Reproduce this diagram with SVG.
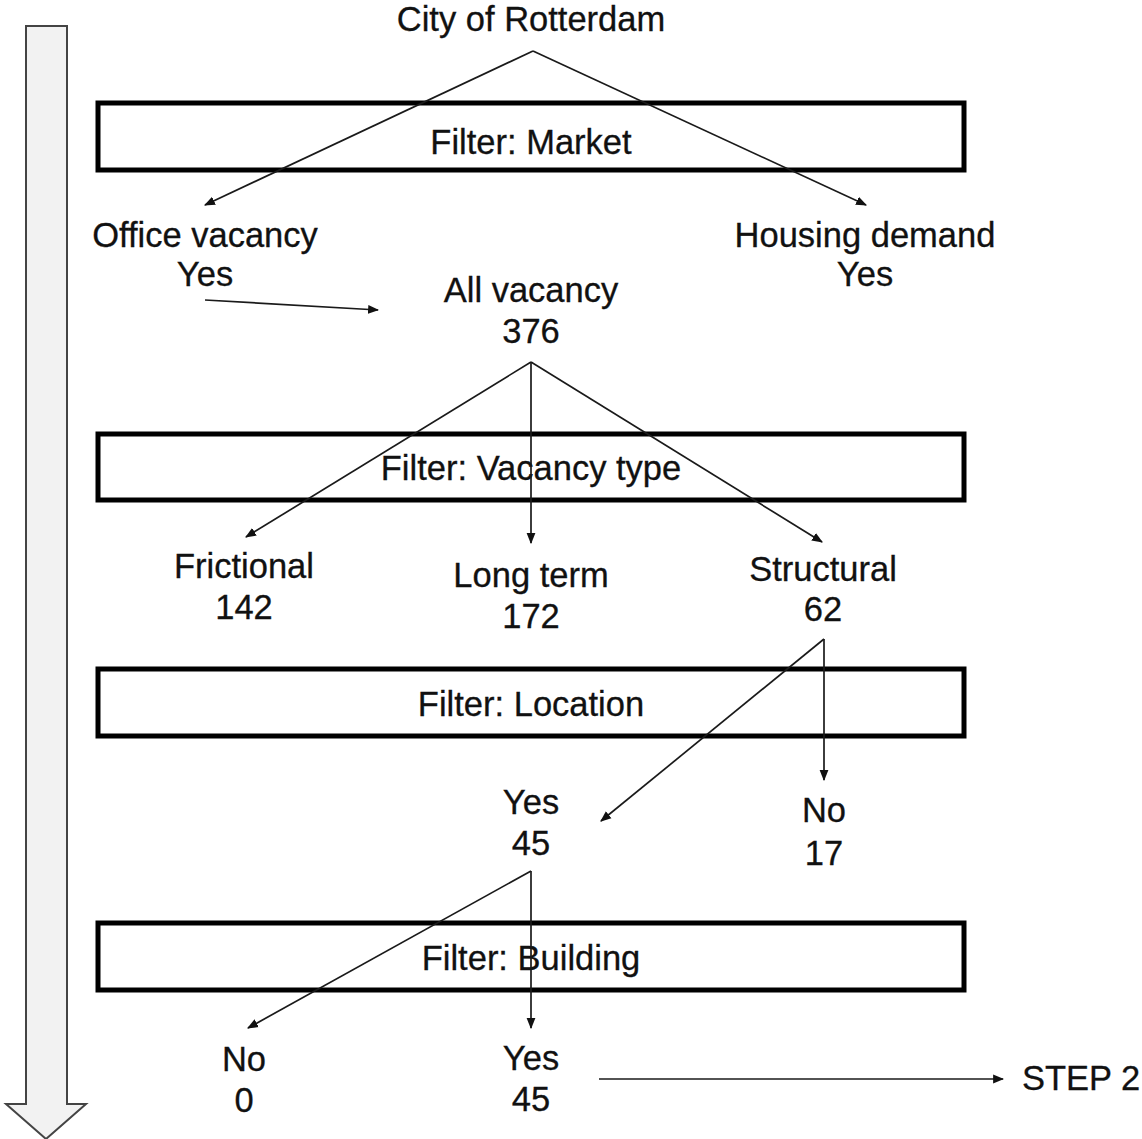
<svg xmlns="http://www.w3.org/2000/svg" width="1142" height="1139" viewBox="0 0 1142 1139">
  <style>
    text { font-family: "Liberation Sans", Arial, sans-serif; font-size: 34.5px; fill: #111; stroke: #111; stroke-width: 0.3; text-anchor: middle; }
    .filter rect { fill: #fff; stroke: #000; stroke-width: 5; }
    .edge { fill: none; stroke: #1a1a1a; stroke-width: 1.7; marker-end: url(#head); }
  </style>
  <defs>
    <marker id="head" viewBox="0 0 10 10" refX="9" refY="5" markerWidth="11" markerHeight="11" markerUnits="userSpaceOnUse" orient="auto">
      <path d="M0,1 L10,5 L0,9 Z" fill="#111"/>
    </marker>
  </defs>

  <!-- process direction arrow on the left -->
  <g id="flow-arrow">
    <path d="M26,26 L67,26 L67,1104 L86,1104 L46,1139 L6,1104 L26,1104 Z" fill="#f2f2f2" stroke="#444" stroke-width="2"/>
  </g>

  <!-- filter bands -->
  <g id="filter-market" class="filter">
    <rect x="98" y="103" width="866" height="67"/>
    <text x="531" y="154">Filter: Market</text>
  </g>
  <g id="filter-vacancy-type" class="filter">
    <rect x="98" y="434" width="866" height="66"/>
    <text x="531" y="480">Filter: Vacancy type</text>
  </g>
  <g id="filter-location" class="filter">
    <rect x="98" y="669" width="866" height="67"/>
    <text x="531" y="716">Filter: Location</text>
  </g>
  <g id="filter-building" class="filter">
    <rect x="98" y="923" width="866" height="67"/>
    <text x="531" y="970">Filter: Building</text>
  </g>

  <!-- connectors -->
  <g id="connectors">
    <path class="edge" d="M533,51 L205,205"/>
    <path class="edge" d="M533,51 L866,205"/>
    <path class="edge" d="M205,300 L378,310"/>
    <path class="edge" d="M531,362 L246,537"/>
    <path class="edge" d="M531,362 L531,543"/>
    <path class="edge" d="M531,362 L822,542"/>
    <path class="edge" d="M824,639 L601,821"/>
    <path class="edge" d="M824,639 L824,780"/>
    <path class="edge" d="M531,871 L248,1028"/>
    <path class="edge" d="M531,871 L531,1028"/>
    <path class="edge" d="M599,1079 L1003,1079"/>
  </g>

  <!-- nodes -->
  <g id="city"><text x="531" y="31">City of Rotterdam</text></g>
  <g id="office-vacancy">
    <text x="205" y="247">Office vacancy</text>
    <text x="205" y="286">Yes</text>
  </g>
  <g id="housing-demand">
    <text x="865" y="247">Housing demand</text>
    <text x="865" y="286">Yes</text>
  </g>
  <g id="all-vacancy">
    <text x="531" y="302">All vacancy</text>
    <text x="531" y="343">376</text>
  </g>
  <g id="frictional">
    <text x="244" y="578">Frictional</text>
    <text x="244" y="619">142</text>
  </g>
  <g id="long-term">
    <text x="531" y="587">Long term</text>
    <text x="531" y="628">172</text>
  </g>
  <g id="structural">
    <text x="823" y="581">Structural</text>
    <text x="823" y="621">62</text>
  </g>
  <g id="location-yes">
    <text x="531" y="814">Yes</text>
    <text x="531" y="855">45</text>
  </g>
  <g id="location-no">
    <text x="824" y="822">No</text>
    <text x="824" y="865">17</text>
  </g>
  <g id="building-no">
    <text x="244" y="1071">No</text>
    <text x="244" y="1112">0</text>
  </g>
  <g id="building-yes">
    <text x="531" y="1070">Yes</text>
    <text x="531" y="1111">45</text>
  </g>
  <g id="step-2">
    <text x="1022" y="1090" style="text-anchor:start">STEP 2</text>
  </g>
</svg>
